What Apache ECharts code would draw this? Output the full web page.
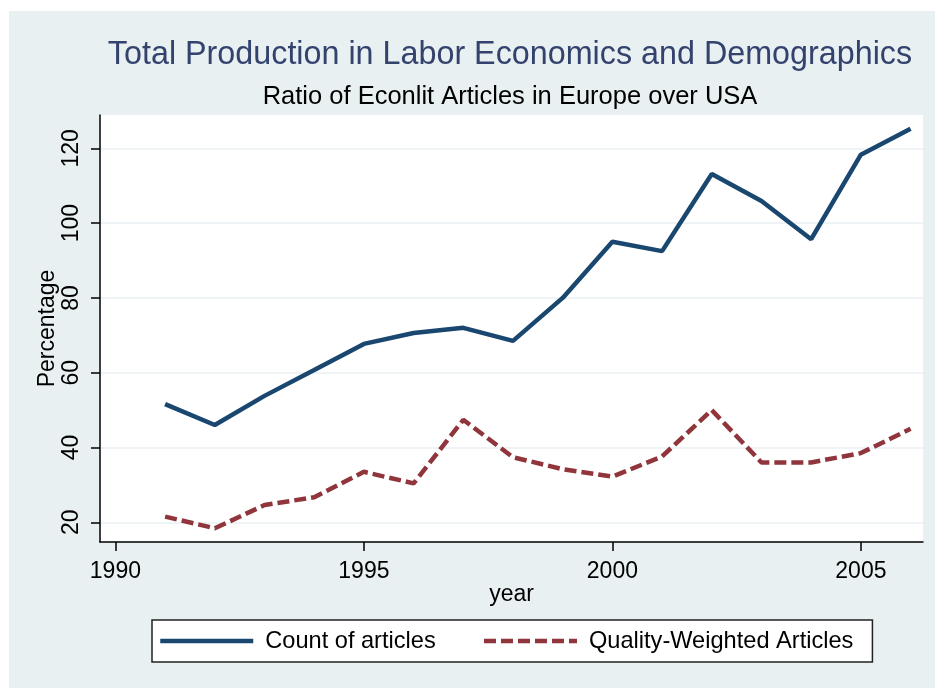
<!DOCTYPE html>
<html>
<head>
<meta charset="utf-8">
<script src="https://cdn.jsdelivr.net/npm/echarts@6/dist/echarts.min.js"></script>
<style>
  html, body { margin: 0; padding: 0; background: #ffffff; }
</style>
</head>
<body>
<div id="e1" style="width: 935px; height: 688px"></div>
<script>
  // years on the x axis
  let years = [1991, 1992, 1993, 1994, 1995, 1996, 1997, 1998, 1999, 2000, 2001, 2002, 2003, 2004, 2005, 2006];
  // Count of articles (ratio Europe / USA, %)
  let countArticles = [51.6, 46, 53.8, 60.7, 67.7, 70.6, 72, 68.5, 80, 95, 92.5, 113.1, 105.9, 95.7, 118.3, 125.2];
  // Quality-Weighted Articles
  let qualityArticles = [21.5, 18.4, 24.6, 26.7, 33.5, 30.4, 47.4, 37.4, 34.2, 32.2, 37.6, 50, 36, 36, 38.5, 45];
  let xTicks = [1990, 1995, 2000, 2005];
  let yTicks = [20, 40, 60, 80, 100, 120];

  let colors = ['#1a476f', '#90353b'];
  let font = '"Liberation Sans", Arial, sans-serif';

  let myChart = echarts.init(document.getElementById('e1'));

  let toPairs = function (vals) {
    let out = [];
    for (let i in years) {
      out.push([years[i], vals[i]]);
    }
    return out;
  };

  let option = {
    backgroundColor: '#ffffff',
    animation: false,
    textStyle: { fontFamily: font },
    graphic: [
      {
        type: 'rect', z: -10, silent: true,
        shape: { x: 9, y: 11, width: 926, height: 677 },
        style: { fill: '#e8f0f2' }
      },
      {
        type: 'text', z: 10,
        x: 510, y: 55,
        style: {
          text: 'Total Production in Labor Economics and Demographics',
          fill: '#34426e', font: '32.3px ' + font,
          textAlign: 'center', textVerticalAlign: 'middle'
        }
      },
      {
        type: 'text', z: 10,
        x: 510, y: 97,
        style: {
          text: 'Ratio of Econlit Articles in Europe over USA',
          fill: '#000000', font: '25.5px ' + font,
          textAlign: 'center', textVerticalAlign: 'middle'
        }
      }
    ],
    grid: {
      left: 100, right: 12, top: 115, bottom: 146,
      show: true,
      backgroundColor: '#ffffff',
      borderWidth: 0
    },
    legend: {
      left: 152, top: 620,
      padding: [9, 19, 9, 6],
      backgroundColor: '#ffffff',
      borderColor: '#222222',
      borderWidth: 1.5,
      borderRadius: 0,
      itemWidth: 93,
      itemHeight: 14,
      itemGap: 46,
      itemStyle: { opacity: 0 },
      lineStyle: { width: 4.5 },
      textStyle: { fontSize: 23.6, color: '#000000', padding: [0, 0, 0, 7] },
      data: ['Count of articles', 'Quality-Weighted Articles']
    },
    xAxis: {
      type: 'value',
      min: 1989.69,
      max: 2006.25,
      name: 'year',
      nameLocation: 'middle',
      nameGap: 41,
      nameMoveOverlap: false,
      nameTextStyle: { fontSize: 23, color: '#000000' },
      axisLine: { show: true, onZero: false, lineStyle: { color: '#000000', width: 1.5 } },
      axisTick: { show: true, length: 9, customValues: xTicks, lineStyle: { color: '#000000', width: 1.5 } },
      axisLabel: {
        customValues: xTicks, margin: 18, fontSize: 23, color: '#000000',
        formatter: function (v) { return String(v); }
      },
      splitLine: { show: false }
    },
    yAxis: {
      type: 'value',
      min: 14.73,
      max: 128.9,
      name: 'Percentage',
      nameLocation: 'middle',
      nameGap: 41,
      nameRotate: 90,
      nameMoveOverlap: false,
      nameTextStyle: { fontSize: 23, color: '#000000' },
      axisLine: { show: true, onZero: false, lineStyle: { color: '#000000', width: 1.5 } },
      axisTick: { show: true, length: 9, customValues: yTicks, lineStyle: { color: '#000000', width: 1.5 } },
      axisLabel: { customValues: yTicks, rotate: 90, margin: 17, fontSize: 23, color: '#000000' },
      splitLine: { show: true, lineStyle: { color: '#e9f1f3', width: 1.5 } }
    },
    series: [
      {
        name: 'Count of articles',
        type: 'line',
        data: toPairs(countArticles),
        showSymbol: false,
        symbol: 'none',
        lineStyle: { color: colors[0], width: 4.5 },
        itemStyle: { color: colors[0] }
      },
      {
        name: 'Quality-Weighted Articles',
        type: 'line',
        data: toPairs(qualityArticles),
        showSymbol: false,
        symbol: 'none',
        lineStyle: { color: colors[1], width: 4.5, type: [12, 5] },
        itemStyle: { color: colors[1] }
      }
    ]
  };
  myChart.setOption(option);
</script>
</body>
</html>
